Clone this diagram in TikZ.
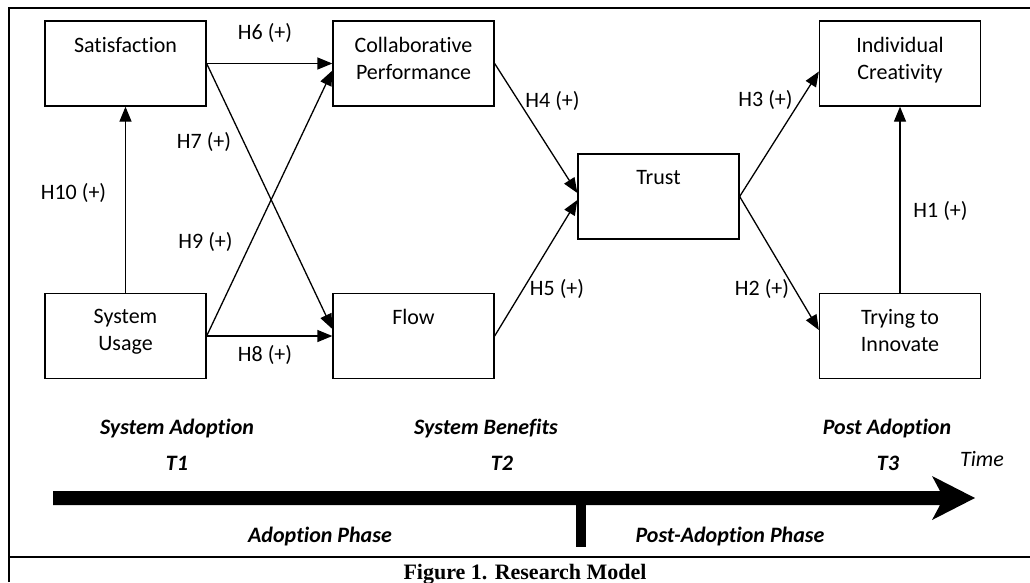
\documentclass[tikz,border=0pt]{standalone}
\usepackage{fontspec}
\setmainfont{Carlito}[Ligatures=CommonOff]
\newfontfamily\captionfont{Liberation Serif}
\usepackage{tikz}
\usetikzlibrary{calc,arrows.meta}
\newcommand{\bodysize}{\fontsize{22}{27}\selectfont}
\tikzstyle{constructbox} = [
    draw=black,
    line width=1.3pt,
    rectangle,
    inner sep=0pt,
    minimum width=161pt,
    minimum height=85pt
    ]
\tikzstyle{boxtext} = [
    anchor=north,
    yshift=-16.5pt,
    inner sep=0pt,
    align=center,
    font=\bodysize
    ]
\tikzstyle{hyp} = [anchor=base, inner sep=0pt, font=\bodysize]
\tikzstyle{phase} = [anchor=base, inner sep=0pt, font=\bodysize\bfseries\itshape]
\tikzstyle{hypline} = [line width=1.3pt, -{Triangle[length=15pt,width=12pt]}]

\begin{document}
\begin{tikzpicture}[x=1pt, y=-1pt]
\useasboundingbox (0,0) rectangle (1030,582);
% frame
\draw[line width=1.5pt] (9,582) -- (9,8) -- (1030,8);
\draw[line width=1.5pt] (9,557) -- (1030,557);

% constructs
\node[constructbox, label={[boxtext]north:Satisfaction}] (sat) at (125.5,63.5) {};
\node[constructbox, label={[boxtext]north:Collaborative\\Performance}] (collab) at (413.5,63.5) {};
\node[constructbox, label={[boxtext]north:Individual\\Creativity}] (indiv) at (900,63.5) {};
\node[constructbox, label={[boxtext]north:Trust}] (trust) at (658.5,196.5) {};
\node[constructbox, label={[boxtext]north:System\\Usage}] (usage) at (125.5,336) {};
\node[constructbox, label={[boxtext]north:Flow}] (flow) at (413.5,336) {};
\node[constructbox, label={[boxtext]north:Trying to\\Innovate}] (trying) at (900,336) {};

% hypotheses
\draw[hypline] (usage.north) -- (sat.south);
\draw[hypline] (sat.east) -- (collab.west);
\draw[hypline] (sat.east) -- ($(flow.west)+(0,-7)$);
\draw[hypline] (usage.east) -- ($(collab.west)+(0,7)$);
\draw[hypline] (usage.east) -- (flow.west);
\draw[hypline] (collab.east) -- ($(trust.west)+(0,-3.5)$);
\draw[hypline] (flow.east) -- ($(trust.west)+(0,3.5)$);
\draw[hypline] (trust.east) -- ($(indiv.west)+(0,8)$);
\draw[hypline] (trust.east) -- ($(trying.west)+(0,-6)$);
\draw[hypline] (trying.north) -- (indiv.south);

\node[hyp] (h6) at (265,39) {H6 (+)};
\node[hyp] (h7) at (204,148) {H7 (+)};
\node[hyp] (h10) at (73.5,199) {H10 (+)};
\node[hyp] (h9) at (205.5,248) {H9 (+)};
\node[hyp] (h8) at (265,361) {H8 (+)};
\node[hyp] (h4) at (552.5,107) {H4 (+)};
\node[hyp] (h3) at (765.5,106) {H3 (+)};
\node[hyp] (h1) at (940.5,217) {H1 (+)};
\node[hyp] (h5) at (557,295) {H5 (+)};
\node[hyp] (h2) at (762,295) {H2 (+)};

% time line
\node[phase] (adopt) at (177,434) {System Adoption};
\node[phase] (t1) at (177,470) {T1};
\node[phase] (benefit) at (486,434) {System Benefits};
\node[phase] (t2) at (502,470) {T2};
\node[phase] (post) at (887,434) {Post Adoption};
\node[phase] (t3) at (888,470) {T3};
\node[hyp, font=\bodysize\itshape] (time) at (982,466) {Time};
\fill (53,491) -- (940,491) -- (932,476) -- (975,498) -- (932,520) -- (940,505) -- (53,505) -- cycle;
\fill (576,498) rectangle (586,547);
\node[phase] (adoptphase) at (320,542) {Adoption Phase};
\node[phase] (postphase) at (730,542) {Post-Adoption Phase};

\node[anchor=base, inner sep=0pt, font=\captionfont\bfseries\fontsize{22}{26}\selectfont] (caption) at (525,579) {Figure 1. Research Model};
\end{tikzpicture}
\end{document}
